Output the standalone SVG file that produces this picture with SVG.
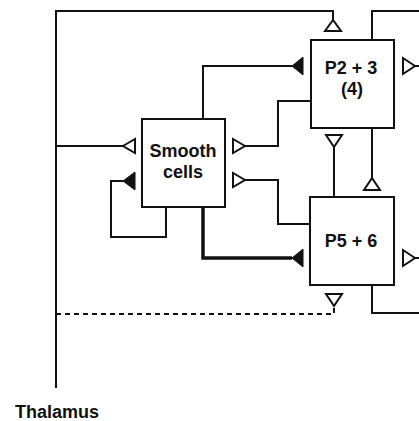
<svg xmlns="http://www.w3.org/2000/svg" width="419" height="421" viewBox="0 0 419 421">
<style>
.ln{fill:none;stroke:#111;stroke-width:2}
.thick{fill:none;stroke:#111;stroke-width:3.5}
.dash{fill:none;stroke:#111;stroke-width:2;stroke-dasharray:5 4}
.box{fill:#fff;stroke:#111;stroke-width:2}
.open{fill:#fff;stroke:#111;stroke-width:2;stroke-linejoin:miter}
.fill{fill:#111;stroke:#111;stroke-width:1}
text{font-family:"Liberation Sans",Arial,sans-serif;font-weight:bold;font-size:18px;fill:#111;text-anchor:middle}
</style>
<rect width="419" height="421" fill="#fff"/>
<g id="connectors">
  <path class="ln" d="M56,388 V11 H333 V20"/>
  <path class="ln" d="M56,146 H123"/>
  <path class="ln" d="M203,119 V66 H292"/>
  <path class="ln" d="M245,146 H278 V101 H311"/>
  <path class="ln" d="M245,180 H278 V224 H310"/>
  <path class="thick" d="M203,207 V258 H292"/>
  <path class="ln" d="M123,181 H111 V237 H166 V207"/>
  <path class="ln" d="M372,40 V11 H419"/>
  <path class="ln" d="M415,66 H419"/>
  <path class="ln" d="M415,258 H419"/>
  <path class="ln" d="M334,147 V197"/>
  <path class="ln" d="M372,128 V178"/>
  <path class="ln" d="M372,285 V313 H419"/>
  <path class="dash" d="M56,314 H334 V307"/>
  <polygon class="open" points="333,20 325,31 341,31"/>
  <polygon class="open" points="123,146 135,139 135,153"/>
  <polygon class="open" points="245,146 233,139 233,153"/>
  <polygon class="open" points="245,180 233,173 233,187"/>
  <polygon class="open" points="415,66 403,58 403,74"/>
  <polygon class="open" points="415,258 403,250 403,266"/>
  <polygon class="open" points="334,147 326,135 342,135"/>
  <polygon class="open" points="372,178 364,190 380,190"/>
  <polygon class="open" points="334,306 326,294 342,294"/>
  <polygon class="fill" points="292,66 303,57 303,75"/>
  <polygon class="fill" points="292,258 303,249 303,267"/>
  <polygon class="fill" points="123,181 135,172 135,190"/>
</g>
<g id="smooth">
  <rect class="box" x="142" y="119" width="83" height="88"/>
  <text x="183" y="157">Smooth</text>
  <text x="183" y="178">cells</text>
</g>
<g id="p23">
  <rect class="box" x="311" y="40" width="83" height="88"/>
  <text x="351" y="74">P2 + 3</text>
  <text x="352" y="95">(4)</text>
</g>
<g id="p56">
  <rect class="box" x="310" y="197" width="84" height="88"/>
  <text x="351" y="247">P5 + 6</text>
</g>
<g id="thalamus">
  <text x="57" y="418">Thalamus</text>
</g>
</svg>
